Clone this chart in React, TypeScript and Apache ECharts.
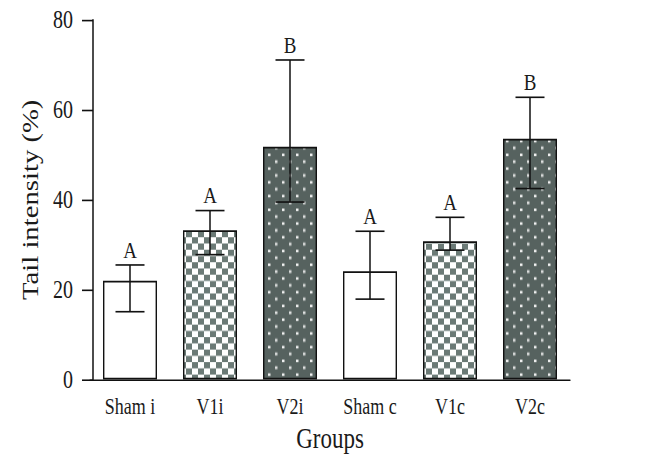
import React, { useEffect, useRef } from "react";
import * as echarts from "echarts";

const categories = ["Sham i", "V1i", "V2i", "Sham c", "V1c", "V2c"];
const meanValues = [22, 33.2, 51.8, 24.1, 30.8, 53.6];
const lowValues = [15.1, 27.8, 39.5, 17.9, 28.8, 42.5];
const highValues = [25.5, 37.6, 71.1, 33.0, 36.1, 62.8];
const letters = ["A", "A", "B", "A", "A", "B"];
const fillKinds = ["white", "checker", "dots", "white", "checker", "dots"];
const yTicks = { min: 0, max: 80, interval: 20 };

const FONT = "'Liberation Serif', 'Times New Roman', serif";
// the reference figure is stretched vertically; render flatter and stretch
const INNER_H = 374;
const STRETCH = 467 / INNER_H;

function makeChecker() {
  const w = 12;
  const h = 10;
  const c = document.createElement("canvas");
  c.width = w;
  c.height = h;
  const ctx = c.getContext("2d")!;
  ctx.fillStyle = "#ffffff";
  ctx.fillRect(0, 0, w, h);
  ctx.fillStyle = "#6b7a76";
  ctx.fillRect(0, 0, w / 2, h / 2);
  ctx.fillRect(w / 2, h / 2, w / 2, h / 2);
  return { image: c, repeat: "repeat", imageWidth: w, imageHeight: h };
}

function makeDots() {
  const w = 14;
  const h = 11;
  const c = document.createElement("canvas");
  c.width = w;
  c.height = h;
  const ctx = c.getContext("2d")!;
  ctx.fillStyle = "#56625f";
  ctx.fillRect(0, 0, w, h);
  ctx.fillStyle = "#f2f2f2";
  ctx.fillRect(2, 2, 2.5, 2);
  ctx.fillRect(9, 7.5, 2.5, 2);
  return { image: c, repeat: "repeat", imageWidth: w, imageHeight: h };
}

export default function App() {
  const ref = useRef<HTMLDivElement>(null);
  useEffect(() => {
    document.body.style.margin = "0";
    if (!ref.current) return;
    const chart = echarts.init(ref.current, undefined, { renderer: "svg" });
    const checker = makeChecker();
    const dots = makeDots();
    const fillFor = (k: string) =>
      k === "checker" ? checker : k === "dots" ? dots : "#ffffff";

    chart.setOption({
      animation: false,
      backgroundColor: "#ffffff",
      grid: { left: 90, right: 78, top: 16, bottom: 70 },
      xAxis: {
        type: "category",
        data: categories,
        name: "Groups",
        nameLocation: "middle",
        nameGap: 36,
        nameTextStyle: { fontFamily: FONT, fontSize: 23, color: "#1a1a1a" },
        axisLine: { lineStyle: { color: "#111", width: 1.3 } },
        axisTick: { alignWithLabel: true, length: 8, lineStyle: { color: "#111", width: 1.4 } },
        axisLabel: { fontFamily: FONT, fontSize: 18, color: "#1a1a1a", margin: 12, interval: 0 },
      },
      yAxis: {
        type: "value",
        min: yTicks.min,
        max: yTicks.max,
        interval: yTicks.interval,
        offset: -3,
        name: "Tail intensity (%)",
        nameLocation: "middle",
        nameGap: 49,
        nameTextStyle: { fontFamily: FONT, fontSize: 23, color: "#1a1a1a" },
        axisLine: { show: true, lineStyle: { color: "#111", width: 1.5 } },
        axisTick: { show: true, length: 11, lineStyle: { color: "#111", width: 1.3 } },
        axisLabel: { fontFamily: FONT, fontSize: 20, color: "#1a1a1a", margin: 20 },
        splitLine: { show: false },
      },
      series: [
        {
          type: "bar",
          barWidth: 54,
          data: meanValues.map((v, i) => ({
            value: v,
            itemStyle: { color: fillFor(fillKinds[i]), borderColor: "#111", borderWidth: 1.4 },
          })),
        },
        {
          type: "custom",
          data: categories.map((_, i) => [i, lowValues[i], highValues[i], i]),
          renderItem: (params: any, api: any) => {
            const idx = api.value(0);
            const lo = api.coord([idx, api.value(1)]);
            const hi = api.coord([idx, api.value(2)]);
            const hw = 14.5;
            const vStyle = { stroke: "#111", lineWidth: 1.5 };
            const hStyle = { stroke: "#111", lineWidth: 1.3 };
            return {
              type: "group",
              children: [
                { type: "line", shape: { x1: lo[0], y1: lo[1], x2: hi[0], y2: hi[1] }, style: vStyle },
                { type: "line", shape: { x1: lo[0] - hw, y1: lo[1], x2: lo[0] + hw, y2: lo[1] }, style: hStyle },
                { type: "line", shape: { x1: hi[0] - hw, y1: hi[1], x2: hi[0] + hw, y2: hi[1] }, style: hStyle },
                {
                  type: "text",
                  x: hi[0],
                  y: hi[1] - 2.5,
                  style: {
                    text: letters[params.dataIndex],
                    fontFamily: FONT,
                    fontSize: 19,
                    fill: "#1a1a1a",
                    align: "center",
                    verticalAlign: "bottom",
                  },
                },
              ],
            };
          },
          z: 5,
        },
      ],
    });
    return () => chart.dispose();
  }, []);
  return (
    <div style={{ width: 648, height: 467, overflow: "hidden", background: "#fff" }}>
      <div
        ref={ref}
        style={{
          width: 648,
          height: INNER_H,
          transform: `scaleY(${STRETCH})`,
          transformOrigin: "0 0",
        }}
      />
    </div>
  );
}
